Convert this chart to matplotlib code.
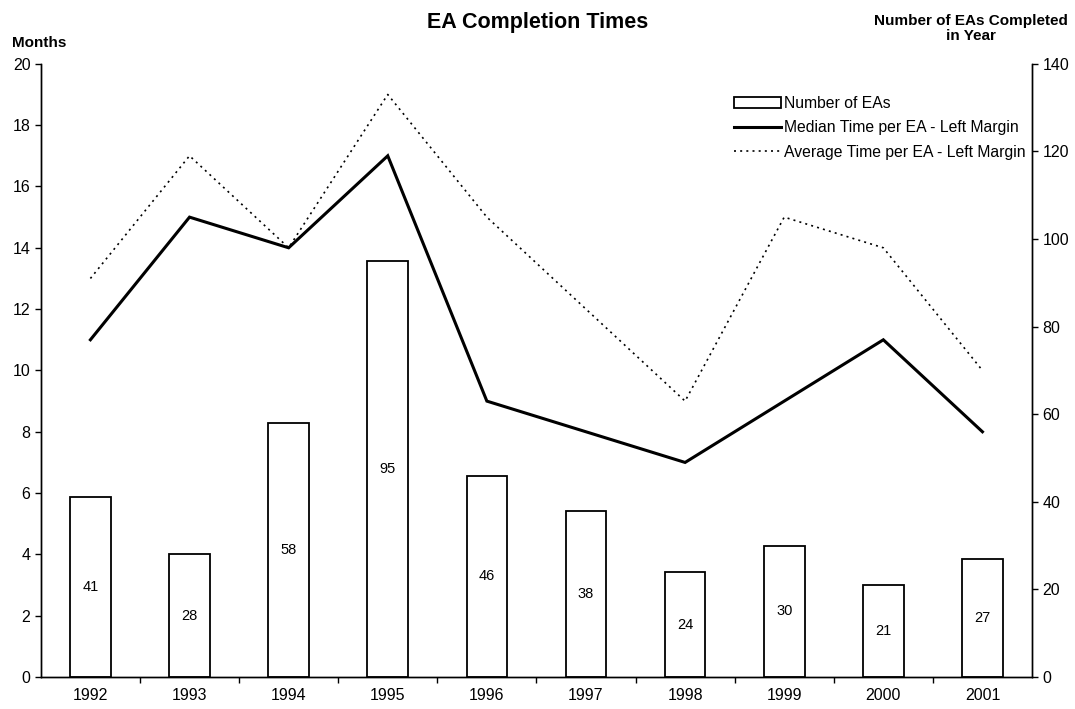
import matplotlib.pyplot as plt
from matplotlib.lines import Line2D
from matplotlib.patches import Patch

plt.rcParams['font.family'] = ['Liberation Sans', 'DejaVu Sans']

years = ['1992', '1993', '1994', '1995', '1996', '1997', '1998', '1999', '2000', '2001']
num_eas = [41, 28, 58, 95, 46, 38, 24, 30, 21, 27]
median_time = [11, 15, 14, 17, 9, 8, 7, 9, 11, 8]
average_time = [13, 17, 14, 19, 15, 12, 9, 15, 14, 10]

fig = plt.figure(figsize=(10.75, 7.09), dpi=100)
ax = fig.add_axes([0.038, 0.045, 0.922, 0.865])
ax2 = ax.twinx()

x = list(range(len(years)))

# bars on the right axis
bars = ax2.bar(x, num_eas, width=0.41, color='white', edgecolor='black', linewidth=1.3, zorder=1)
for xi, v in zip(x, num_eas):
    ax2.text(xi, v / 2, str(v), ha='center', va='center', fontsize=10.5)

ax2.set_ylim(0, 140)
ax2.set_yticks(range(0, 141, 20))

# lines on the left axis, drawn above the bars
ax.set_zorder(ax2.get_zorder() + 1)
ax.patch.set_visible(False)
ax.plot(x, median_time, color='black', linewidth=2.2, solid_joinstyle='miter')
ax.plot(x, average_time, color='black', linewidth=1.2, linestyle=(0, (1.2, 2.5)))

ax.set_ylim(0, 20)
ax.set_yticks(range(0, 21, 2))
ax.set_xlim(-0.5, len(years) - 0.5)
ax.set_xticks(x)
ax.set_xticklabels(years)
ax.tick_params(axis='x', length=0, pad=8)
ax.set_xticks([i + 0.5 for i in x[:-1]], minor=True)
ax.tick_params(axis='x', which='minor', length=4, width=1)

for a in (ax, ax2):
    a.spines['top'].set_visible(False)
    a.tick_params(axis='y', length=4, width=1, labelsize=11.5)
    for s in a.spines.values():
        s.set_linewidth(1)
ax.tick_params(axis='x', labelsize=11.5)

fig.text(0.5, 0.968, 'EA Completion Times', ha='center', va='center', fontsize=15.5, fontweight='bold')
fig.text(0.011, 0.94, 'Months', ha='left', va='center', fontsize=11, fontweight='bold')
fig.text(0.903, 0.96, 'Number of EAs Completed\nin Year', ha='center', va='center',
         fontsize=11, fontweight='bold', multialignment='center', linespacing=1.15)

handles = [
    Patch(facecolor='white', edgecolor='black', linewidth=1.3),
    Line2D([], [], color='black', linewidth=2.2),
    Line2D([], [], color='black', linewidth=1.2, linestyle=(0, (1.2, 2.5))),
]
labels = ['Number of EAs', 'Median Time per EA - Left Margin', 'Average Time per EA - Left Margin']
ax.legend(handles, labels, loc='upper right', bbox_to_anchor=(1.0, 0.958), frameon=False,
          fontsize=11.3, handlelength=3.0, handletextpad=0.2, labelspacing=0.6, borderaxespad=0)

fig.savefig('out.png', dpi=100)
